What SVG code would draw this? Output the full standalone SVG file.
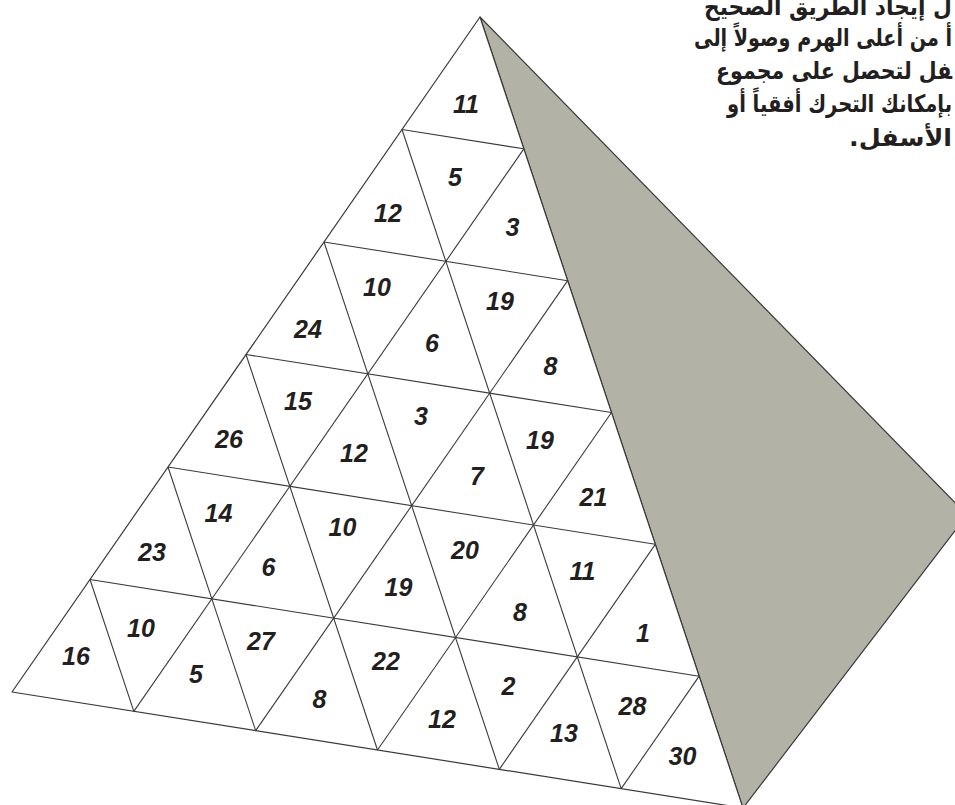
<svg xmlns="http://www.w3.org/2000/svg" width="955" height="805" viewBox="0 0 955 805">
<style>
.face{fill:#ffffff;stroke:#3a3a3a;stroke-width:1.2;stroke-linejoin:round}
.side{fill:#b2b2a7;stroke:#3a3a3a;stroke-width:1.2;stroke-linejoin:round}
.grid line{stroke:#3a3a3a;stroke-width:1.1}
.n{font-family:"Liberation Sans",Arial,sans-serif;font-weight:bold;font-style:italic;font-size:25px;fill:#231f20;text-anchor:middle}
.ar{font-family:"DejaVu Sans",sans-serif;font-weight:bold;font-size:24px;fill:#231f20;text-anchor:end}
</style>
<rect width="955" height="805" fill="#ffffff"/>
<g id="side-face"><polygon class="side" points="480,17 967,515 743,808"/></g>
<g id="front-face"><polygon class="face" points="480,17 12,692 743,808"/></g>
<g id="connectors" class="grid">
<line x1="402" y1="129.5" x2="523.83" y2="148.83"/>
<line x1="324" y1="242" x2="567.67" y2="280.67"/>
<line x1="246" y1="354.5" x2="611.5" y2="412.5"/>
<line x1="168" y1="467" x2="655.33" y2="544.33"/>
<line x1="90" y1="579.5" x2="699.17" y2="676.17"/>
<line x1="523.83" y1="148.83" x2="133.83" y2="711.33"/>
<line x1="567.67" y1="280.67" x2="255.67" y2="730.67"/>
<line x1="611.5" y1="412.5" x2="377.5" y2="750"/>
<line x1="655.33" y1="544.33" x2="499.33" y2="769.33"/>
<line x1="699.17" y1="676.17" x2="621.17" y2="788.67"/>
<line x1="402" y1="129.5" x2="621.17" y2="788.67"/>
<line x1="324" y1="242" x2="499.33" y2="769.33"/>
<line x1="246" y1="354.5" x2="377.5" y2="750"/>
<line x1="168" y1="467" x2="255.67" y2="730.67"/>
<line x1="90" y1="579.5" x2="133.83" y2="711.33"/>
</g>
<g id="numbers">
<g id="c1-1"><text class="n" x="466" y="113">11</text></g>
<g id="c2-1"><text class="n" x="388" y="222">12</text></g>
<g id="c2-2"><text class="n" x="455" y="186">5</text></g>
<g id="c2-3"><text class="n" x="512.5" y="236">3</text></g>
<g id="c3-1"><text class="n" x="308" y="337.5">24</text></g>
<g id="c3-2"><text class="n" x="377" y="296">10</text></g>
<g id="c3-3"><text class="n" x="432" y="351.5">6</text></g>
<g id="c3-4"><text class="n" x="500" y="310">19</text></g>
<g id="c3-5"><text class="n" x="550.5" y="375">8</text></g>
<g id="c4-1"><text class="n" x="229" y="447.5">26</text></g>
<g id="c4-2"><text class="n" x="298" y="410">15</text></g>
<g id="c4-3"><text class="n" x="354" y="462">12</text></g>
<g id="c4-4"><text class="n" x="421" y="425">3</text></g>
<g id="c4-5"><text class="n" x="477" y="485">7</text></g>
<g id="c4-6"><text class="n" x="540" y="449">19</text></g>
<g id="c4-7"><text class="n" x="593.5" y="506">21</text></g>
<g id="c5-1"><text class="n" x="152" y="561">23</text></g>
<g id="c5-2"><text class="n" x="218.5" y="522">14</text></g>
<g id="c5-3"><text class="n" x="268.5" y="576">6</text></g>
<g id="c5-4"><text class="n" x="342.5" y="536">10</text></g>
<g id="c5-5"><text class="n" x="398.5" y="596">19</text></g>
<g id="c5-6"><text class="n" x="465" y="558.5">20</text></g>
<g id="c5-7"><text class="n" x="520" y="621">8</text></g>
<g id="c5-8"><text class="n" x="582.5" y="579.5">11</text></g>
<g id="c5-9"><text class="n" x="643" y="642">1</text></g>
<g id="c6-1"><text class="n" x="76" y="664.5">16</text></g>
<g id="c6-2"><text class="n" x="141" y="637">10</text></g>
<g id="c6-3"><text class="n" x="196" y="683">5</text></g>
<g id="c6-4"><text class="n" x="261" y="650">27</text></g>
<g id="c6-5"><text class="n" x="319.5" y="708">8</text></g>
<g id="c6-6"><text class="n" x="386" y="670">22</text></g>
<g id="c6-7"><text class="n" x="442" y="728">12</text></g>
<g id="c6-8"><text class="n" x="508.5" y="694.5">2</text></g>
<g id="c6-9"><text class="n" x="564" y="742">13</text></g>
<g id="c6-10"><text class="n" x="632.5" y="714.5">28</text></g>
<g id="c6-11"><text class="n" x="682.5" y="764.5">30</text></g>
</g>
<g id="instructions">
<text class="ar" x="952" y="15" textLength="248" lengthAdjust="spacingAndGlyphs">ل إيجاد الطريق الصحيح</text>
<text class="ar" x="952" y="46" textLength="258" lengthAdjust="spacingAndGlyphs">أ من أعلى الهرم وصولاً إلى</text>
<text class="ar" x="952" y="79" textLength="236" lengthAdjust="spacingAndGlyphs">&#x200D;فل لتحصل على مجموع</text>
<text class="ar" x="952" y="112" textLength="225" lengthAdjust="spacingAndGlyphs">بإمكانك التحرك أفقياً أو</text>
<text class="ar" x="952" y="146" textLength="103" lengthAdjust="spacingAndGlyphs">الأسفل.&#x200F;</text>
</g>
</svg>
